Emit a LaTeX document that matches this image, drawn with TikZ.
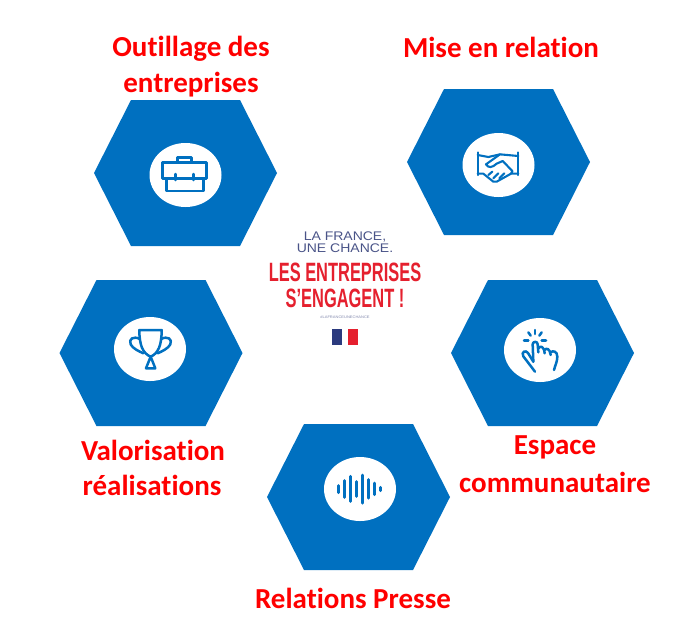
\documentclass[tikz,border=0pt]{standalone}
\usepackage{fontspec}
\setmainfont[Ligatures=NoCommon]{Carlito}
\newfontfamily\logofont[FakeStretch=0.62]{Liberation Sans}
\newfontfamily\logolight[FakeStretch=1.12]{Liberation Sans}
\definecolor{hexblue}{HTML}{0070C0}
\definecolor{labelred}{HTML}{FF0000}
\definecolor{logored}{HTML}{E5202E}
\definecolor{logoblue}{HTML}{4A5488}
\definecolor{flagblue}{HTML}{2B3A7E}
\tikzset{
  hexa/.style={fill=hexblue,draw=none},
  disc/.style={fill=white,draw=none,ellipse,minimum width=72pt,minimum height=64pt,inner sep=0pt},
  lab/.style={text=labelred,font=\fontsize{29}{32}\selectfont\bfseries,inner sep=0pt,anchor=center},
  icon/.style={draw=hexblue,line width=2.5pt,line cap=round,line join=round},
  thin icon/.style={icon,line width=2.1pt},
  bar/.style={draw=hexblue,line width=3pt,line cap=round},
  logotop/.style={text=logoblue,font=\logolight\fontsize{12.5}{14}\selectfont,inner sep=0pt},
  logomain/.style={text=logored,font=\logofont\bfseries\fontsize{26.5}{30}\selectfont,inner sep=0pt},
  logotag/.style={text=logoblue!70,font=\logolight\fontsize{3.6}{4}\selectfont,inner sep=0pt}
}
\usetikzlibrary{shapes.geometric}
\newcommand{\hexat}[2]{\fill[hexa] (#1-91.5,#2) -- (#1-54.5,#2-73) -- (#1+54.5,#2-73) -- (#1+91.5,#2) -- (#1+54.5,#2+73) -- (#1-54.5,#2+73) -- cycle;}
\begin{document}
\begin{tikzpicture}[x=1pt,y=-1pt]
\useasboundingbox (0,0) rectangle (700,638);
\fill[white] (0,0) rectangle (700,638);
% hexagons
\hexat{185.5}{173}
\hexat{498.5}{162}
\hexat{151}{353}
\hexat{542.5}{353}
\hexat{358.5}{497}
% white discs
\node[disc] (d1) at (185.5,175) {};
\node[disc] (d2) at (498.5,165) {};
\node[disc] (d3) at (150,349) {};
\node[disc] (d4) at (540,350) {};
\node[disc] (d5) at (360,489) {};
% briefcase
\begin{scope}[shift={(140,140)},scale=1/3]
\draw[icon] (68,68) rectangle (200,115);
\draw[icon] (80,115) -- (80,153) -- (190,153) -- (190,115);
\draw[icon] (113,68) -- (113,53) -- (155,53) -- (155,68);
\draw[icon] (107,102) -- (107,120);
\draw[icon] (160,102) -- (160,120);
\end{scope}
% handshake
\begin{scope}[shift={(455,125)},scale=1/3]
\draw[thin icon] (68,82) -- (68,150);
\draw[thin icon] (190,82) -- (190,150);
\draw[thin icon] (68,90) -- (100,96) -- (135,88) -- (190,93);
\draw[thin icon] (135,88) -- (93,118) .. controls (100,130) and (112,128) .. (125,116) -- (143,108) -- (172,138);
\draw[thin icon] (190,146) -- (168,146) -- (172,138);
\draw[thin icon] (68,146) -- (85,146) -- (115,170) -- (125,170) -- (168,146);
\draw[thin icon] (100,150) -- (112,140);
\draw[thin icon] (115,160) -- (130,145);
\draw[thin icon] (133,160) -- (148,145);
\end{scope}
% trophy
\begin{scope}[shift={(110,315)},scale=1/3]
\draw[icon] (88,45) -- (155,45) .. controls (155,90) and (145,115) .. (122,125) .. controls (98,115) and (88,90) .. (88,45) -- cycle;
\draw[icon] (90,72) .. controls (70,62) and (55,72) .. (62,88) .. controls (68,100) and (85,108) .. (100,115);
\draw[icon] (153,72) .. controls (173,62) and (188,72) .. (181,88) .. controls (175,100) and (158,108) .. (143,115);
\draw[icon] (122,125) -- (108,160) -- (136,160) -- cycle;
\end{scope}
% pointing hand
\begin{scope}[shift={(500,315)},scale=1/3]
\draw[icon] (105,45) -- (105,57);
\draw[icon] (85,52) -- (92,62);
\draw[icon] (125,52) -- (118,62);
\draw[icon] (72,76) -- (85,76);
\draw[icon] (125,76) -- (138,76);
\draw[icon] (100,140) -- (98,88) .. controls (98,78) and (113,78) .. (113,88) -- (115,112);
\draw[icon] (115,100) .. controls (120,92) and (132,92) .. (134,115);
\draw[icon] (134,105) .. controls (138,98) and (150,100) .. (152,120);
\draw[icon] (152,112) .. controls (158,106) and (172,108) .. (172,125) .. controls (172,140) and (165,152) .. (162,165);
\draw[icon] (100,140) -- (84,114) .. controls (78,104) and (62,110) .. (70,124) -- (105,170);
\end{scope}
% sound wave
\begin{scope}[shift={(318,455)},scale=1/3]
\draw[bar] (62,92) -- (62,113);
\draw[bar] (80,77) -- (80,127);
\draw[bar] (98,64) -- (98,139);
\draw[bar] (115,80) -- (115,124);
\draw[bar] (133,60) -- (133,144);
\draw[bar] (151,74) -- (151,129);
\draw[bar] (168,84) -- (168,119);
\draw[bar] (186,97) -- (186,107);
\end{scope}
% labels
\node[lab] (l1a) at (191,49) {Outillage des};
\node[lab] (l1b) at (191,85) {entreprises};
\node[lab] (l2) at (501,47) {Mise en relation};
\node[lab] (l3a) at (153,450) {Valorisation};
\node[lab] (l3b) at (152,485) {réalisations};
\node[lab] (l4a) at (555,447) {Espace};
\node[lab] (l4b) at (555,482) {communautaire};
\node[lab] (l5) at (353,598) {Relations Presse};
% logo
\node[logotop] (t1) at (345,237) {LA FRANCE,};
\node[logotop] (t2) at (345,248) {UNE CHANCE.};
\node[logomain] (t3) at (345,272) {LES ENTREPRISES};
\node[logomain] (t4) at (345,298) {S’ENGAGENT !};
\node[logotag] (t5) at (345,317) {\#LAFRANCEUNECHANCE};
\fill[flagblue] (332,329) rectangle (342,345);
\fill[logored] (348,329) rectangle (358,345);
\end{tikzpicture}
\end{document}
